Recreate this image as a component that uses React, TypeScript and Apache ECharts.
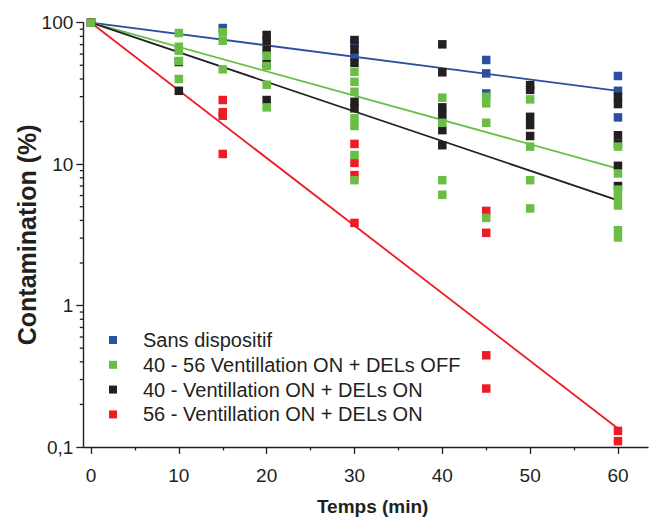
import React, { useEffect, useRef } from "react";
import * as echarts from "echarts";

// ---- data (time in min, contamination in %) ----
const sansDispositif: [number, number][] = [
  [0, 100], [15, 91.7], [30, 71.8], [30, 58.1], [45, 54.5], [45, 43.8], [45, 31.6],
  [60, 42.0], [60, 33.0], [60, 21.4],
];
const ventOnDelsOn56: [number, number][] = [
  [0, 100], [15, 28.4], [15, 23.3], [15, 22.0], [15, 11.8],
  [30, 13.9], [30, 10.2], [30, 8.36], [30, 3.84],
  [45, 4.67], [45, 3.27], [45, 0.445], [45, 0.259],
  [60, 0.13], [60, 0.11],
];
const ventOnDelsOn40: [number, number][] = [
  [0, 100], [10, 52.7], [10, 33.0],
  [20, 81.9], [20, 74.6], [20, 64.1], [20, 51.0], [20, 28.4],
  [30, 75.4], [30, 64.8], [30, 52.1], [30, 27.6], [30, 24.8],
  [40, 70.3], [40, 44.6], [40, 25.2], [40, 22.2], [40, 17.4], [40, 13.6],
  [50, 36.2], [50, 33.5], [50, 21.6], [50, 18.9], [50, 15.8],
  [60, 30.0], [60, 26.6], [60, 16.0], [60, 14.0], [60, 9.73], [60, 7.0],
];
const ventOnDelsOff: [number, number][] = [
  [0, 100], [10, 84.5], [10, 67.6], [10, 63.4], [10, 53.6], [10, 40.0],
  [15, 85.5], [15, 74.6], [15, 46.8],
  [20, 58.4], [20, 49.4], [20, 36.4], [20, 25.2],
  [30, 45.0], [30, 38.2], [30, 32.5], [30, 21.1], [30, 18.6], [30, 11.6], [30, 7.7],
  [40, 29.5], [40, 19.6], [40, 7.7], [40, 6.07],
  [45, 30.0], [45, 26.9], [45, 19.6], [45, 4.17],
  [50, 28.7], [50, 13.3], [50, 7.7], [50, 4.86],
  [60, 13.3], [60, 8.6], [60, 6.6], [60, 5.8], [60, 5.1], [60, 3.41], [60, 3.03],
];

const fitTimes = [0, 60];
const fitSans = [100, 33.0];
const fitOff = [100, 9.3];
const fitOn40 = [100, 5.55];
const fitOn56 = [100, 0.135];

const xTicks = [0, 10, 20, 30, 40, 50, 60];
const yMinorTickValues = [
  0.2, 0.3, 0.4, 0.5, 0.6, 0.7, 0.8, 0.9,
  2, 3, 4, 5, 6, 7, 8, 9,
  20, 30, 40, 50, 60, 70, 80, 90,
];

const names = [
  "Sans dispositif",
  "40 - 56 Ventillation ON + DELs OFF",
  "40 - Ventillation ON + DELs ON",
  "56 - Ventillation ON + DELs ON",
];

const BLUE = "#2c4fa1";
const GREEN = "#6abd45";
const BLACK = "#231f20";
const RED = "#ed1c24";
const AXIS = "#231f20";
const FONT = "'Liberation Sans', Arial, Helvetica, sans-serif";

const X_MIN = -0.877;
const X_MAX = 63.42;

export default function App() {
  const ref = useRef<HTMLDivElement>(null);

  useEffect(() => {
    if (!ref.current) return;
    const chart = echarts.init(ref.current, undefined, { renderer: "svg" });

    const fitLine = (vals: number[], color: string, name: string) => ({
      type: "line",
      name,
      xAxisIndex: 0,
      yAxisIndex: 0,
      data: fitTimes.map((t, i) => [t, vals[i]]),
      showSymbol: false,
      symbol: "none",
      lineStyle: { color, width: 1.8 },
      silent: true,
      z: 2,
    });

    const scatter = (data: [number, number][], color: string, name: string, z: number) => ({
      type: "scatter",
      name,
      xAxisIndex: 0,
      yAxisIndex: 0,
      data,
      symbol: "rect",
      symbolSize: 8.5,
      itemStyle: { color, opacity: 1 },
      z,
    });

    const option: any = {
      animation: false,
      backgroundColor: "#ffffff",
      textStyle: { fontFamily: FONT },
      grid: [
        { left: 83.3, top: 22.7, width: 564.7, height: 424.3, containLabel: false, outerBoundsMode: "none" },
        { left: 91, top: 22.7, width: 527, height: 424.3, containLabel: false, outerBoundsMode: "none" },
      ],
      xAxis: [
        {
          type: "value",
          gridIndex: 0,
          min: X_MIN,
          max: X_MAX,
          axisLine: { show: true, onZero: false, lineStyle: { color: AXIS, width: 1.4 } },
          axisTick: { show: false },
          axisLabel: { show: false },
          splitLine: { show: false },
          name: "Temps (min)",
          nameLocation: "middle",
          nameGap: 50,
          nameMoveOverlap: false,
          nameTextStyle: {
            fontFamily: FONT,
            fontSize: 19,
            fontWeight: "bold",
            color: AXIS,
            padding: [0, 0, 0, 14],
          },
        },
        {
          type: "value",
          gridIndex: 1,
          min: xTicks[0],
          max: xTicks[xTicks.length - 1],
          interval: 10,
          axisLine: { show: false, onZero: false },
          axisTick: { show: true, inside: false, length: 7, lineStyle: { color: AXIS, width: 1.3 } },
          minorTick: { show: true, splitNumber: 2, length: 3.5, lineStyle: { color: AXIS, width: 1.3 } },
          axisLabel: {
            show: true,
            margin: 19,
            fontFamily: FONT,
            fontSize: 19,
            color: AXIS,
          },
          splitLine: { show: false },
          minorSplitLine: { show: false },
        },
      ],
      yAxis: [
        {
          type: "log",
          gridIndex: 0,
          logBase: 10,
          min: 0.1,
          max: 100,
          axisLine: { show: true, onZero: false, lineStyle: { color: AXIS, width: 1.4 } },
          axisTick: { show: true, inside: false, length: 7, lineStyle: { color: AXIS, width: 1.3 } },
          axisLabel: {
            show: true,
            margin: 10,
            fontFamily: FONT,
            fontSize: 19,
            color: AXIS,
            formatter: (v: number) => (v < 0.5 ? "0,1" : String(Math.round(v))),
          },
          splitLine: { show: false },
          name: "Contamination (%)",
          nameLocation: "middle",
          nameRotate: 90,
          nameGap: 44,
          nameMoveOverlap: false,
          nameTextStyle: {
            fontFamily: FONT,
            fontSize: 25,
            fontWeight: "bold",
            color: AXIS,
          },
        },
        {
          type: "value",
          gridIndex: 1,
          min: 0,
          max: 1,
          show: false,
        },
      ],
      legend: {
        orient: "vertical",
        left: 109,
        top: 330,
        padding: 0,
        icon: "rect",
        itemWidth: 8,
        itemHeight: 8,
        itemGap: 4.8,
        data: names,
        selectedMode: false,
        textStyle: {
          fontFamily: FONT,
          fontSize: 20,
          lineHeight: 20,
          color: AXIS,
          padding: [0, 0, 0, 21],
        },
      },
      series: [
        {
          type: "custom",
          name: "yMinorTicks",
          xAxisIndex: 0,
          yAxisIndex: 0,
          data: yMinorTickValues.map((v) => [X_MIN, v]),
          clip: false,
          silent: true,
          z: 1,
          renderItem: (_params: any, api: any) => {
            const p = api.coord([api.value(0), api.value(1)]);
            return {
              type: "line",
              shape: { x1: p[0] - 3.5, y1: p[1], x2: p[0], y2: p[1] },
              style: { stroke: AXIS, lineWidth: 1.3 },
            };
          },
        },
        fitLine(fitSans, BLUE, "fitSans"),
        fitLine(fitOff, GREEN, "fitOff"),
        fitLine(fitOn40, BLACK, "fitOn40"),
        fitLine(fitOn56, RED, "fitOn56"),
        scatter(sansDispositif, BLUE, names[0], 3),
        scatter(ventOnDelsOn56, RED, names[3], 4),
        scatter(ventOnDelsOn40, BLACK, names[2], 5),
        scatter(ventOnDelsOff, GREEN, names[1], 6),
      ],
    };

    chart.setOption(option);
    return () => chart.dispose();
  }, []);

  return (
    <div
      ref={ref}
      style={{ position: "absolute", left: 0, top: 0, width: 653, height: 519 }}
    />
  );
}
